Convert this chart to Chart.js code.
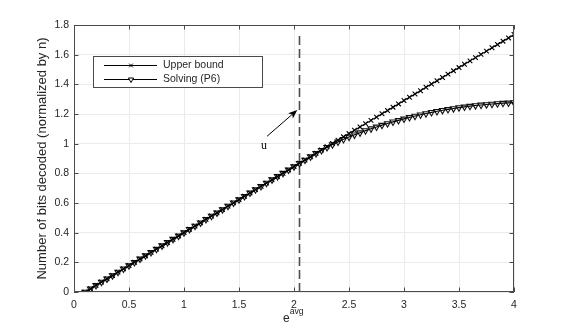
<!DOCTYPE html>
<html>
<head>
<meta charset="utf-8">
<script src="https://cdn.jsdelivr.net/npm/chart.js@4.4.0/dist/chart.umd.min.js"></script>
<style>
  body { margin: 0; background: #fff; }
  canvas { display: block; }
</style>
</head>
<body>
<canvas id="plot" width="569" height="331"></canvas>
<script>
// e^avg values (x axis)
var eAvg = [0.1, 0.15, 0.2, 0.25, 0.3, 0.35, 0.4, 0.45, 0.5, 0.55,
    0.6, 0.65, 0.7, 0.75, 0.8, 0.85, 0.9, 0.95, 1.0, 1.05,
    1.1, 1.15, 1.2, 1.25, 1.3, 1.35, 1.4, 1.45, 1.5, 1.55,
    1.6, 1.65, 1.7, 1.75, 1.8, 1.85, 1.9, 1.95, 2.0, 2.05,
    2.1, 2.15, 2.2, 2.25, 2.3, 2.35, 2.4, 2.45, 2.5, 2.55,
    2.6, 2.65, 2.7, 2.75, 2.8, 2.85, 2.9, 2.95, 3.0, 3.05,
    3.1, 3.15, 3.2, 3.25, 3.3, 3.35, 3.4, 3.45, 3.5, 3.55,
    3.6, 3.65, 3.7, 3.75, 3.8, 3.85, 3.9, 3.95, 4.0];

// Upper bound
var upperBound = [0, 0.022, 0.045, 0.067, 0.089, 0.111, 0.134, 0.156, 0.178, 0.200,
    0.223, 0.245, 0.267, 0.289, 0.312, 0.334, 0.356, 0.378, 0.401, 0.423,
    0.445, 0.467, 0.490, 0.512, 0.534, 0.556, 0.579, 0.601, 0.623, 0.645,
    0.668, 0.690, 0.712, 0.734, 0.757, 0.779, 0.801, 0.823, 0.846, 0.868,
    0.890, 0.912, 0.935, 0.957, 0.979, 1.001, 1.024, 1.046, 1.068, 1.090,
    1.113, 1.135, 1.157, 1.179, 1.202, 1.224, 1.246, 1.268, 1.291, 1.313,
    1.335, 1.357, 1.380, 1.402, 1.424, 1.446, 1.469, 1.491, 1.513, 1.535,
    1.558, 1.580, 1.602, 1.624, 1.647, 1.669, 1.691, 1.713, 1.736];

// Solving (P6)
var solvingP6 = [0, 0.022, 0.045, 0.067, 0.089, 0.111, 0.134, 0.156, 0.178, 0.200,
    0.223, 0.245, 0.267, 0.289, 0.312, 0.334, 0.356, 0.378, 0.401, 0.423,
    0.445, 0.467, 0.490, 0.512, 0.534, 0.556, 0.579, 0.601, 0.623, 0.645,
    0.668, 0.690, 0.712, 0.734, 0.757, 0.779, 0.801, 0.823, 0.846, 0.868,
    0.890, 0.912, 0.934, 0.955, 0.975, 0.994, 1.012, 1.029, 1.045, 1.060,
    1.074, 1.088, 1.101, 1.113, 1.125, 1.136, 1.147, 1.157, 1.167, 1.177,
    1.186, 1.195, 1.203, 1.211, 1.218, 1.225, 1.231, 1.237, 1.243, 1.248,
    1.253, 1.257, 1.261, 1.264, 1.267, 1.270, 1.273, 1.275, 1.277];

// dashed marker line at e^avg = 2.05
var dashX = [2.05, 2.05];
var dashY = [0, 1.73];

// annotation arrow and label
var arrowFrom = [1.755, 1.05];
var arrowTo = [2.03, 1.227];
var labelPos = [1.70, 0.985];
var labelText = "u";

var xTicks = [0, 0.5, 1, 1.5, 2, 2.5, 3, 3.5, 4];
var yTicks = [0, 0.2, 0.4, 0.6, 0.8, 1, 1.2, 1.4, 1.6, 1.8];

var seriesNames = ["Upper bound", "Solving (P6)"];

function pairs(xs, ys) {
    return xs.map(function (x, i) { return { x: x, y: ys[i] }; });
}

var axisColor = "#4a4a4a";
var textColor = "#262626";

// MATLAB-like frame, inward ticks, legend, titles and annotation
var matlabStyle = {
    id: "matlabStyle",
    afterDraw: function (chart) {
        var ctx = chart.ctx;
        var a = chart.chartArea;
        var xs = chart.scales.x, ys = chart.scales.y;
        ctx.save();

        // frame
        ctx.strokeStyle = axisColor;
        ctx.lineWidth = 1;
        ctx.strokeRect(a.left + 0.5, a.top + 0.5, a.right - a.left - 1, a.bottom - a.top - 1);

        // inward ticks
        var tl = 4.5;
        ctx.beginPath();
        xTicks.forEach(function (t) {
            var px = Math.round(xs.getPixelForValue(t)) + 0.5;
            ctx.moveTo(px, a.bottom); ctx.lineTo(px, a.bottom - tl);
            ctx.moveTo(px, a.top); ctx.lineTo(px, a.top + tl);
        });
        yTicks.forEach(function (t) {
            var py = Math.round(ys.getPixelForValue(t)) + 0.5;
            ctx.moveTo(a.left, py); ctx.lineTo(a.left + tl, py);
            ctx.moveTo(a.right, py); ctx.lineTo(a.right - tl, py);
        });
        ctx.stroke();

        // arrow
        var x0 = xs.getPixelForValue(arrowFrom[0]), y0 = ys.getPixelForValue(arrowFrom[1]);
        var x1 = xs.getPixelForValue(arrowTo[0]), y1 = ys.getPixelForValue(arrowTo[1]);
        var ang = Math.atan2(y1 - y0, x1 - x0);
        var hl = 9, hw = 3.6;
        ctx.strokeStyle = "#000";
        ctx.lineWidth = 1;
        ctx.beginPath();
        ctx.moveTo(x0, y0);
        ctx.lineTo(x1 - Math.cos(ang) * hl * 0.8, y1 - Math.sin(ang) * hl * 0.8);
        ctx.stroke();
        ctx.fillStyle = "#000";
        ctx.beginPath();
        ctx.moveTo(x1, y1);
        ctx.lineTo(x1 - Math.cos(ang) * hl - Math.sin(ang) * hw, y1 - Math.sin(ang) * hl + Math.cos(ang) * hw);
        ctx.lineTo(x1 - Math.cos(ang) * hl * 0.75, y1 - Math.sin(ang) * hl * 0.75);
        ctx.lineTo(x1 - Math.cos(ang) * hl + Math.sin(ang) * hw, y1 - Math.sin(ang) * hl - Math.cos(ang) * hw);
        ctx.closePath();
        ctx.fill();

        // "u" label
        ctx.font = "12px 'Liberation Serif', 'DejaVu Serif', serif";
        ctx.textAlign = "left";
        ctx.textBaseline = "middle";
        ctx.fillText(labelText, xs.getPixelForValue(labelPos[0]), ys.getPixelForValue(labelPos[1]));

        // legend
        var lx = 93.5, ly = 56.5, lw = 169, lh = 31;
        ctx.fillStyle = "#fff";
        ctx.fillRect(lx, ly, lw, lh);
        ctx.strokeStyle = axisColor;
        ctx.strokeRect(lx, ly, lw, lh);
        var rows = [65, 79];
        chart.data.datasets.slice(0, 2).forEach(function (ds, i) {
            var ry = rows[i] + 0.5;
            ctx.strokeStyle = "#000";
            ctx.lineWidth = 1;
            ctx.beginPath();
            ctx.moveTo(104, ry); ctx.lineTo(157, ry);
            ctx.stroke();
            ctx.fillStyle = "#fff";
            Chart.helpers.drawPoint(ctx, {
                pointStyle: ds.pointStyle,
                rotation: ds.pointRotation || 0,
                radius: i === 0 ? 2.6 : 3,
                borderWidth: 1
            }, 131, ry);
            ctx.fillStyle = textColor;
            ctx.font = "10.5px 'Liberation Sans', Arial, sans-serif";
            ctx.textAlign = "left";
            ctx.textBaseline = "middle";
            ctx.fillText(ds.label, 163, ry);
        });

        // x axis title: e with superscript avg
        ctx.fillStyle = textColor;
        ctx.textAlign = "left";
        ctx.textBaseline = "alphabetic";
        ctx.font = "12px 'Liberation Sans', Arial, sans-serif";
        var eW = ctx.measureText("e").width;
        ctx.fillText("e", 283, 322);
        ctx.font = "8.7px 'Liberation Sans', Arial, sans-serif";
        ctx.fillText("avg", 283 + eW, 314);

        // y axis title
        ctx.translate(42, (a.top + a.bottom) / 2);
        ctx.rotate(-Math.PI / 2);
        ctx.font = "13px 'Liberation Sans', Arial, sans-serif";
        ctx.textAlign = "center";
        ctx.textBaseline = "middle";
        ctx.fillText("Number of bits decoded (normalized by n)", 0, 0);
        ctx.restore();
    }
};

var ctx = document.getElementById("plot").getContext("2d");

new Chart(ctx, {
    type: "line",
    data: {
        datasets: [{
            label: seriesNames[0],
            data: pairs(eAvg, upperBound),
            borderColor: "#000",
            borderWidth: 1.1,
            pointStyle: "crossRot",
            pointRadius: 3.3,
            pointBorderColor: "#000",
            pointBorderWidth: 1.1,
            tension: 0
        }, {
            label: seriesNames[1],
            data: pairs(eAvg, solvingP6),
            borderColor: "#000",
            borderWidth: 1.1,
            pointStyle: "triangle",
            pointRotation: 180,
            pointRadius: 3.6,
            pointBorderColor: "#111",
            pointBackgroundColor: "rgba(255,255,255,0)",
            pointBorderWidth: 1.1,
            tension: 0
        }, {
            label: "marker",
            data: pairs(dashX, dashY),
            borderColor: "#4d4d4d",
            borderWidth: 1.6,
            borderDash: [9, 4],
            pointRadius: 0
        }]
    },
    options: {
        responsive: false,
        animation: false,
        layout: { padding: { top: 25, right: 55, left: 0, bottom: 0 } },
        plugins: {
            legend: { display: false },
            tooltip: { enabled: false }
        },
        scales: {
            x: {
                type: "linear",
                min: 0,
                max: 4,
                afterBuildTicks: function (s) { s.ticks = xTicks.map(function (v) { return { value: v }; }); },
                afterFit: function (s) { s.height = 39; },
                ticks: {
                    color: textColor,
                    font: { family: "'Liberation Sans', Arial, sans-serif", size: 10.5 },
                    padding: 7,
                    maxRotation: 0,
                    callback: function (v) { return String(v); }
                },
                grid: { color: "#ebebeb", drawTicks: false },
                border: { display: false }
            },
            y: {
                min: 0,
                max: 1.8,
                afterBuildTicks: function (s) { s.ticks = yTicks.map(function (v) { return { value: v }; }); },
                afterFit: function (s) { s.width = 74; },
                ticks: {
                    color: textColor,
                    font: { family: "'Liberation Sans', Arial, sans-serif", size: 10.5 },
                    padding: 5,
                    callback: function (v) { return String(Math.round(v * 10) / 10); }
                },
                grid: { color: "#ebebeb", drawTicks: false },
                border: { display: false }
            }
        }
    },
    plugins: [matlabStyle]
});
</script>
</body>
</html>
